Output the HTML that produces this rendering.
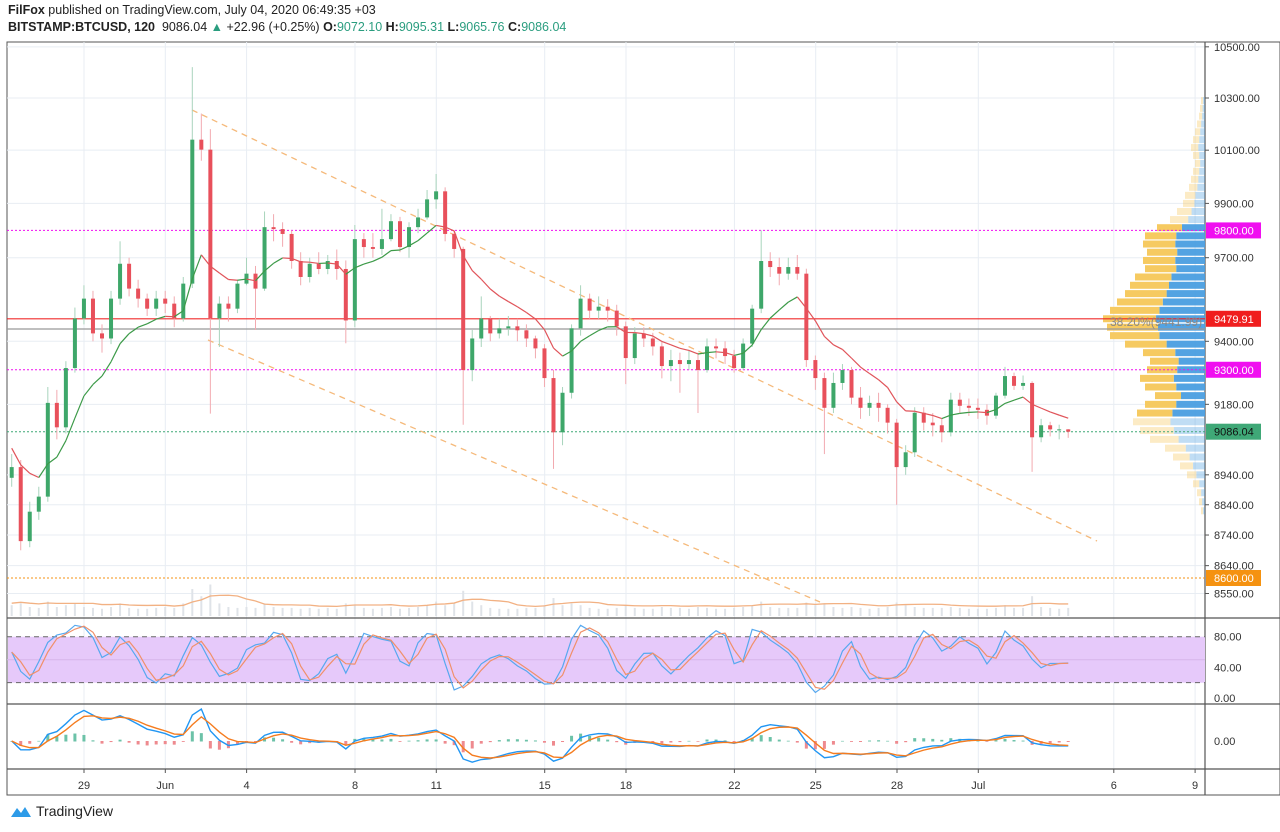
<!DOCTYPE html>
<html><head><meta charset="utf-8">
<style>
html,body{margin:0;padding:0;background:#fff;width:1280px;height:832px;overflow:hidden;font-family:"Liberation Sans",sans-serif;}
#hdr1{position:absolute;left:8px;top:3px;font-size:12.5px;color:#222;}
#hdr2{position:absolute;left:8px;top:20px;font-size:12.5px;color:#222;}
.g{color:#2a9d7f}
#foot{position:absolute;left:10px;top:803px;font-size:14px;color:#222;display:flex;align-items:center;gap:4px}
svg{position:absolute;left:0;top:0}
</style></head><body>
<div id="hdr1"><b>FilFox</b> published on TradingView.com, July 04, 2020 06:49:35 +03</div>
<div id="hdr2"><b>BITSTAMP:BTCUSD, 120</b>&nbsp; 9086.04 <span class="g">▲</span> +22.96 (+0.25%) <b>O:</b><span class="g">9072.10</span> <b>H:</b><span class="g">9095.31</span> <b>L:</b><span class="g">9065.76</span> <b>C:</b><span class="g">9086.04</span></div>
<svg id="chart" width="1280" height="832"></svg>
<div id="foot"><svg width="22" height="14" style="position:static" viewBox="0 0 22 14"><path d="M1 13 L7 4 L11 9 L15 3 L21 13 Z" fill="#2d9be8"/></svg><span>TradingView</span></div>
<script>
const closes=[8966,8720,8817,8867,9185,9101,9306,9481,9552,9428,9410,9552,9678,9588,9552,9516,9552,9534,9481,9606,10140,10102,9481,9534,9516,9606,9642,9588,9812,9805,9787,9688,9630,9678,9659,9688,9659,9474,9768,9739,9732,9768,9834,9739,9812,9848,9915,9945,9787,9732,9299,9410,9481,9428,9446,9453,9439,9410,9375,9271,9084,9220,9446,9552,9509,9523,9509,9453,9341,9428,9410,9382,9313,9334,9320,9334,9299,9382,9375,9348,9306,9392,9516,9688,9666,9642,9666,9642,9334,9271,9168,9254,9299,9203,9168,9185,9168,9117,8966,9016,9151,9117,9108,9084,9196,9175,9168,9161,9141,9210,9278,9244,9254,9067,9108,9094,9094,9086];
const highs=[9010,8990,8850,8900,9240,9230,9330,9520,9600,9580,9460,9580,9760,9700,9620,9570,9580,9580,9560,9630,10420,10240,10180,9560,9560,9620,9700,9670,9870,9860,9830,9800,9720,9700,9720,9710,9730,9690,9820,9790,9790,9880,9860,9850,9830,9880,9950,10010,9960,9800,9740,9440,9560,9490,9480,9490,9480,9460,9420,9390,9300,9240,9460,9600,9570,9560,9550,9530,9470,9450,9450,9430,9400,9370,9360,9370,9360,9410,9410,9400,9370,9410,9530,9800,9720,9700,9700,9710,9660,9350,9290,9290,9320,9310,9240,9210,9220,9180,9130,9040,9170,9170,9150,9130,9220,9220,9200,9200,9180,9220,9310,9290,9280,9260,9130,9120,9110,9095];
const lows=[8900,8690,8700,8790,8850,9060,9080,9290,9460,9400,9360,9390,9530,9560,9520,9490,9490,9500,9450,9470,9590,10060,9148,9380,9470,9500,9600,9440,9580,9760,9740,9660,9600,9610,9640,9640,9620,9393,9450,9700,9700,9710,9760,9720,9700,9790,9840,9880,9760,9700,9110,9260,9380,9400,9410,9420,9400,9380,9340,9240,8960,9040,9200,9420,9480,9480,9470,9420,9250,9320,9380,9350,9270,9260,9220,9300,9150,9290,9340,9320,9290,9300,9380,9500,9630,9600,9620,9620,9310,9230,9010,9150,9230,9180,9130,9140,9120,9080,8840,8940,9000,9090,9070,9050,9070,9150,9140,9130,9110,9130,9200,9230,9230,8950,9050,9070,9060,9065];
const volumes=[12,14,10,9,16,10,12,14,10,9,8,10,14,9,8,8,9,10,9,14,30,22,35,14,10,9,10,9,14,10,9,9,8,9,8,9,8,14,12,9,8,9,10,8,9,10,12,16,12,14,28,16,12,9,8,8,8,9,9,12,20,12,14,12,9,8,8,9,12,9,8,8,10,9,9,8,10,9,8,8,9,10,12,16,10,9,9,9,15,12,14,10,9,10,9,8,9,10,15,12,10,9,9,9,10,9,8,8,8,9,12,9,9,22,10,9,8,9];
const priceTicks=[10500,10300,10100,9900,9700,9400,9180,8940,8840,8740,8640,8550];
const dateLabels=["29","Jun","4","8","11","15","18","22","25","28","Jul","6","9"];
const dateDays=[0,3,6,10,13,17,20,24,27,30,33,38,41];
const vpPrices=[10290,10260,10230,10200,10170,10140,10110,10080,10050,10020,9990,9960,9930,9900,9870,9840,9810,9780,9750,9720,9690,9660,9630,9600,9570,9540,9510,9480,9450,9420,9390,9360,9330,9300,9270,9240,9210,9180,9150,9120,9090,9060,9030,9000,8970,8940,8910,8880,8850,8820];
const vpVolumes=[4,5,6,8,10,12,14,12,10,12,14,16,20,22,28,35,48,60,62,58,62,60,70,75,80,88,95,102,98,95,80,62,55,58,65,60,50,60,68,72,65,55,40,32,25,18,12,8,6,4];
const levelPrices=[9800,9479.91,9300,9086.04,8600];
const levelLabels=["9800.00","9479.91","9300.00","9086.04","8600.00"];
const levelColors=["#f00ff0","#f01e1e","#f00ff0","#3fa877","#f59210"];

const NS="http://www.w3.org/2000/svg";
const svg=document.getElementById('chart');
function el(tag,attrs,parent){const e=document.createElementNS(NS,tag);for(const k in attrs)e.setAttribute(k,attrs[k]);(parent||svg).appendChild(e);return e;}
const L=7,R=1205,TOP=42;
const xC=i=>11.7+i*9.03;
const xDay=d=>84+d*27.1;
const yP=p=>98+(Math.log(10300)-Math.log(p))*2661;
const ySt=v=>698-v*0.766;

let r=el('rect',{x:L,y:TOP,width:1273,height:753,fill:'#fff',stroke:'#555','stroke-width':1});


const grid=el('g',{});

dateDays.forEach(d=>{el('line',{x1:xDay(d),x2:xDay(d),y1:TOP,y2:769,stroke:'#e8edf3','stroke-width':1},grid);});
priceTicks.forEach(p=>{el('line',{x1:L,x2:R,y1:yP(p),y2:yP(p),stroke:'#e8edf3','stroke-width':1},grid);});

[[L,618,1280,618],[L,704,1280,704],[L,769,1280,769],[R,TOP,R,795]].forEach(a=>{el('line',{x1:a[0],y1:a[1],x2:a[2],y2:a[3],stroke:'#555','stroke-width':1.2});});

const vp=el('g',{});

vpPrices.forEach((p,i)=>{
  const w=vpVolumes[i],y=yP(p)-3.5,inVA=(p>=9150&&p<=9810);
  const op=inVA?0.95:0.35;
  const bw=w*0.48;
  el('rect',{x:R-bw,y:y,width:bw,height:7,fill:'#4a9ee0',opacity:op},vp);
  el('rect',{x:R-w,y:y,width:w-bw,height:7,fill:'#f6c759',opacity:op},vp);
});

const vg=el('g',{});

volumes.forEach((v,i)=>{el('rect',{x:xC(i)-1,y:616-v*0.9,width:2,height:v*0.9,fill:'#dfe3e8'},vg);});
let vma=[];volumes.forEach((v,i)=>{const s=volumes.slice(Math.max(0,i-5),i+1);vma.push(s.reduce((a,b)=>a+b,0)/s.length);});
let vl=el('polyline',{points:vma.map((v,i)=>xC(i)+','+(614-v*0.9)).join(' '),fill:'none',stroke:'#f2b183','stroke-width':1.3});


levelPrices.forEach((p,i)=>{
  const y=yP(p);
  const solid=(i===1);
  let ln=el('line',{x1:L,x2:R,y1:y,y2:y,stroke:levelColors[i],'stroke-width':solid?1.5:1,'stroke-dasharray':solid?'':'2,2',opacity:solid?0.7:1});
  
});
let fib=el('line',{x1:L,x2:R,y1:329,y2:329,stroke:'#999','stroke-width':1.3});

let ft=el('text',{x:1110,y:326,'font-size':12,fill:'#888'});ft.textContent='38.20%(9441.99)';


let c1=el('line',{x1:192,y1:110,x2:1097,y2:541,stroke:'#f5b97a','stroke-width':1.3,'stroke-dasharray':'6,5'});

let c2=el('line',{x1:208,y1:340,x2:820,y2:602,stroke:'#f5b97a','stroke-width':1.3,'stroke-dasharray':'6,5'});


const cg=el('g',{});

closes.forEach((c,i)=>{
  const o=i===0?8930:closes[i-1];
  const up=c>=o,col=up?'#3ea76a':'#e8505b';
  const x=xC(i);
  el('line',{x1:x,x2:x,y1:yP(highs[i]),y2:yP(lows[i]),stroke:up?'#a8d4bc':'#f2aab0','stroke-width':1},cg);
  const y1=yP(Math.max(o,c)),y2=yP(Math.min(o,c));
  el('rect',{x:x-2,y:y1,width:4,height:Math.max(1,y2-y1),fill:col},cg);
});

let ema=[],k=2/(10+1);closes.forEach((c,i)=>{ema.push(i===0?9030:ema[i-1]+k*(c-ema[i-1]));});
const mg=el('g',{});

for(let i=1;i<ema.length;i++){el('line',{x1:xC(i-1),y1:yP(ema[i-1]),x2:xC(i),y2:yP(ema[i]),stroke:ema[i]>=ema[i-1]?'#3c9a48':'#e0545a','stroke-width':1.2},mg);}

const ax=el('g',{'font-size':11,fill:'#333'});

priceTicks.forEach(p=>{const y=yP(p);el('line',{x1:R,x2:R+4,y1:y,y2:y,stroke:'#555'},ax);const t=el('text',{x:1214,y:y+4},ax);t.textContent=p.toFixed(2);});
levelPrices.forEach((p,i)=>{
  const y=yP(p);
  let b=el('rect',{x:1206,y:y-8,width:55,height:16,fill:levelColors[i]});
  
  let t=el('text',{x:1214,y:y+4,'font-size':11,fill:(i===3?'#111':'#fff')});t.textContent=levelLabels[i];
});

const sg=el('g',{});

el('rect',{x:L+1,y:ySt(80),width:R-L-1,height:ySt(20)-ySt(80),fill:'#e6c9fa'},sg);
[80,20].forEach(v=>el('line',{x1:L,x2:R,y1:ySt(v),y2:ySt(v),stroke:'#666','stroke-dasharray':'5,4'},sg));
el('line',{x1:L,x2:R,y1:ySt(50),y2:ySt(50),stroke:'#d5b5ea'},sg);
let kRaw=closes.map((c,i)=>{const s=Math.max(0,i-3);const hh=Math.max(...highs.slice(s,i+1)),ll=Math.min(...lows.slice(s,i+1));return hh===ll?50:(c-ll)/(hh-ll)*100;});
const sm=(a,n)=>a.map((v,i)=>{const s=a.slice(Math.max(0,i-n+1),i+1);return s.reduce((p,q)=>p+q,0)/s.length;});
let kS=sm(kRaw,2),dS=sm(kS,2);
let sk=el('polyline',{points:kS.map((v,i)=>xC(i)+','+ySt(v)).join(' '),fill:'none',stroke:'#56a8ef','stroke-width':1.2});

let sd=el('polyline',{points:dS.map((v,i)=>xC(i)+','+ySt(v)).join(' '),fill:'none',stroke:'#f0906a','stroke-width':1.2});

[[80,'80.00'],[40,'40.00'],[0,'0.00']].forEach(a=>{const t=el('text',{x:1214,y:ySt(a[0])+4,'font-size':11,fill:'#333'});t.textContent=a[1];});

const emaF=(a,n)=>{const kk=2/(n+1);let o=[];a.forEach((v,i)=>o.push(i===0?v:o[i-1]+kk*(v-o[i-1])));return o;};
const f=emaF(closes,4),s=emaF(closes,9);
const macd=f.map((v,i)=>v-s[i]);const sig=emaF(macd,3);
const mx=Math.max(...macd.map(Math.abs));
const yM=v=>741-v/mx*32;
const mcg=el('g',{});

macd.forEach((v,i)=>{const h=v-sig[i];const y0=741,y1=741-h/mx*32;el('rect',{x:xC(i)-1.5,y:Math.min(y0,y1),width:3,height:Math.abs(y1-y0)+0.5,fill:h>=0?'#6cc2a8':'#ee8a8f'},mcg);});
let ml=el('polyline',{points:macd.map((v,i)=>xC(i)+','+yM(v)).join(' '),fill:'none',stroke:'#2196f3','stroke-width':1.4});

let sl=el('polyline',{points:sig.map((v,i)=>xC(i)+','+yM(v)).join(' '),fill:'none',stroke:'#f57c1f','stroke-width':1.4});

let mt=el('text',{x:1214,y:745,'font-size':11,fill:'#333'});mt.textContent='0.00';

const ta=el('g',{'font-size':11,fill:'#333','text-anchor':'middle'});

dateLabels.forEach((lbl,i)=>{const x=xDay(dateDays[i]);el('line',{x1:x,x2:x,y1:769,y2:773,stroke:'#555'},ta);const t=el('text',{x:x,y:789},ta);t.textContent=lbl;});
</script>
</body></html>
